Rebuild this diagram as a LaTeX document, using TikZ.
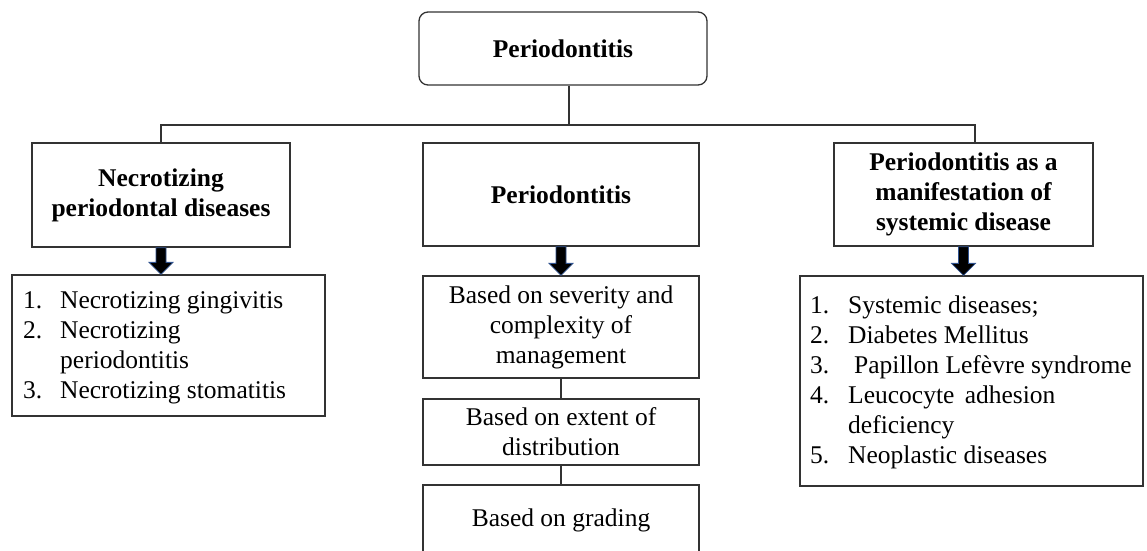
\documentclass[tikz,border=0pt]{standalone}
\usepackage{fontspec}
\setmainfont{Liberation Serif}
\usetikzlibrary{calc}
\newcommand\blockarrow[2]{%
  \draw[blk] ([xshift=-5pt]#1) -- ($(#2 -| #1)+(-5,-12)$) -- ++(-7,0) -- (#2 -| #1)
    -- ++(12,-12) -- ++(-7,0) -- ([xshift=5pt]#1) -- cycle;}
\begin{document}
\begin{tikzpicture}[x=1pt,y=-1pt,
  every node/.style={font=\fontsize{25.5}{30}\selectfont},
  bx/.style={draw=black!80, line width=1.3pt, inner sep=0pt, align=center},
  ln/.style={draw=black!80, line width=1.3pt},
  blk/.style={fill=black, draw={rgb,255:red,47;green,82;blue,143}, line width=0.8pt, line join=miter}]
\clip (0,0) rectangle (1147,550);

% top
\node[bx, rounded corners=9pt, minimum width=288pt, minimum height=73pt] (top) at (563,48.5) {\bfseries Periodontitis};

% headers
\node[bx, minimum width=258pt, minimum height=104pt] (hdL) at (161,195) {\bfseries Necrotizing\\\bfseries periodontal diseases};
\node[bx, minimum width=276pt, minimum height=103pt] (hdM) at (561,194.5) {\bfseries Periodontitis};
\node[bx, minimum width=259pt, minimum height=103pt] (hdR) at (963.5,194.5) {\bfseries Periodontitis as a\\\bfseries manifestation of\\\bfseries systemic disease};

% tree connectors
\coordinate (j) at (569,125);
\draw[ln] (top.south -| j) -- (j);
\draw[ln] (hdL.north) |- (j) -| ([xshift=11.5pt]hdR.north);

% left list
\node[bx, minimum width=313pt, minimum height=141pt] (ltL) at (168.5,345.5) {};
\node[anchor=west, inner sep=0pt] (ltLt) at (23,347) {\begin{tabular}{@{}p{37pt}@{}l@{}}
1. & Necrotizing gingivitis\\
2. & Necrotizing\\
   & periodontitis\\
3. & Necrotizing stomatitis
\end{tabular}};

% middle chain
\node[bx, minimum width=276pt, minimum height=102pt] (mb1) at (561,327) {Based on severity and\\complexity of\\management};
\node[bx, minimum width=276pt, minimum height=66pt] (mb2) at (561,432) {Based on extent of\\distribution};
\node[bx, minimum width=276pt, minimum height=70pt] (mb3) at (561,520) {Based on grading};
\draw[ln] (mb1.south) -- (mb2.north);
\draw[ln] (mb2.south) -- (mb3.north);

% right list
\node[bx, minimum width=343pt, minimum height=210pt] (ltR) at (971.5,381) {};
\node[anchor=west, inner sep=0pt] (ltRt) at (810,382.5) {\begin{tabular}{@{}p{38pt}@{}l@{}}
1. & Systemic diseases;\\
2. & Diabetes Mellitus\\
3. & \hspace{6pt}Papillon Lef\`evre syndrome\\
4. & Leucocyte\hspace{4pt} adhesion\\
   & deficiency\\
5. & Neoplastic diseases
\end{tabular}};

% block arrows
\blockarrow{hdL.south}{ltL.north}
\blockarrow{hdM.south}{mb1.north}
\blockarrow{hdR.south}{ltR.north}
\end{tikzpicture}
\end{document}
